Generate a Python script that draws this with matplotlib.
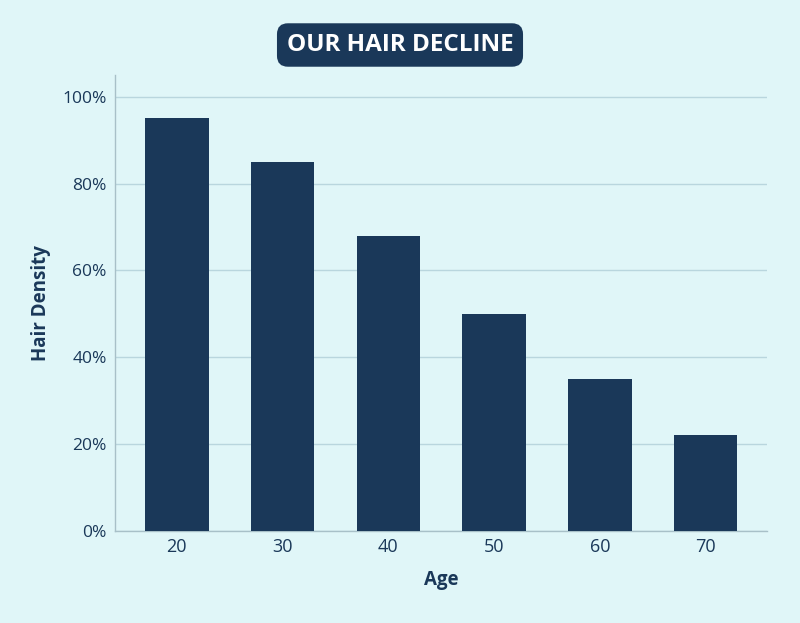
import matplotlib
matplotlib.use("Agg")
import matplotlib.pyplot as plt

ages = ["20", "30", "40", "50", "60", "70"]
density = [95, 85, 68, 50, 35, 22]
yticks = [0, 20, 40, 60, 80, 100]
ytick_labels = ["0%", "20%", "40%", "60%", "80%", "100%"]

bg = "#e0f6f8"
navy = "#1a3859"
plt.rcParams['font.family'] = ['Open Sans', 'DejaVu Sans']

fig = plt.figure(figsize=(8, 6.23), dpi=100, facecolor=bg)
ax = fig.add_axes([0.14375, 0.1477, 0.815, 0.7319])
ax.set_facecolor(bg)

x = list(range(len(ages)))
ax.bar(x, density, width=0.6, color=navy, zorder=3)
ax.set_xlim(-0.585, 5.58)
ax.set_ylim(0, 105)
ax.set_xticks(x)
ax.set_xticklabels(ages)
ax.set_yticks(yticks)
ax.set_yticklabels(ytick_labels)
ax.grid(axis='y', color="#b9d6de", linewidth=1, zorder=0)
ax.tick_params(axis='both', length=0, labelsize=12.5, colors=navy, pad=6)
ax.tick_params(axis='x', labelsize=13, pad=5)
for s in ['top', 'right']:
    ax.spines[s].set_visible(False)
for s in ['left', 'bottom']:
    ax.spines[s].set_color("#a8c0c8")
    ax.spines[s].set_linewidth(1)

ax.set_xlabel("Age", fontsize=13.5, fontweight='bold', color=navy, labelpad=10)
ax.set_ylabel("Hair Density", fontsize=13.5, fontweight='bold', color=navy, labelpad=8)

fig.text(0.5, 1 - 45/623, "OUR HAIR DECLINE", ha='center', va='center',
         fontsize=17.5, fontweight='bold', color='white',
         bbox=dict(boxstyle='round,pad=0.4,rounding_size=0.45', facecolor=navy, edgecolor='none'))

fig.savefig("out.png", dpi=100, facecolor=bg)
